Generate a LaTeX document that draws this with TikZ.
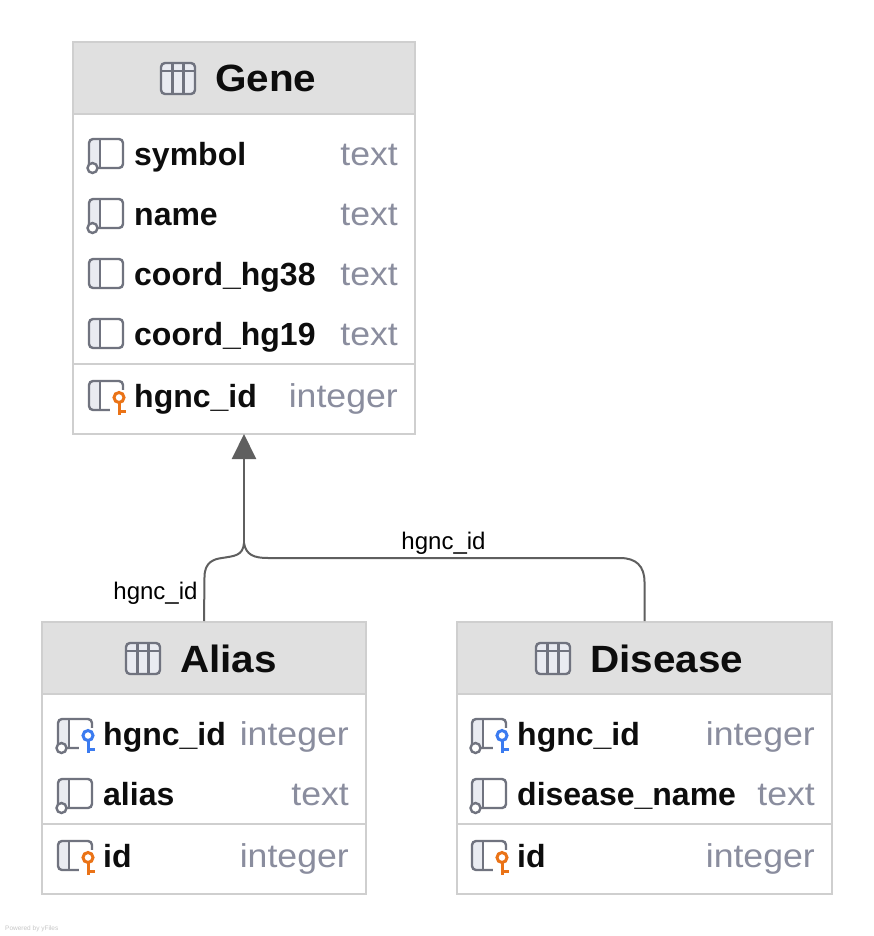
\documentclass[tikz,border=0pt]{standalone}
\usepackage{fontspec}
\setmainfont{Liberation Sans}
\newfontfamily\titlefont[FakeStretch=1.065]{Liberation Sans Bold}
\newfontfamily\fieldfont{Liberation Sans Bold}
\newfontfamily\typefont[FakeStretch=1.08]{Liberation Sans}
\usetikzlibrary{arrows.meta}
\definecolor{boxline}{HTML}{CFCFCF}
\definecolor{headfill}{HTML}{E0E0E0}
\definecolor{iconline}{HTML}{70737F}
\definecolor{panefill}{HTML}{E9EBF1}
\definecolor{typegray}{HTML}{8A8D9E}
\definecolor{edgegray}{HTML}{5F5F5F}
\definecolor{keyorange}{HTML}{EA7317}
\definecolor{keyblue}{HTML}{3B7BF0}
\tikzset{
  x=1pt,y=-1pt,
  tablebox/.style={draw=boxline,line width=1.1pt,fill=white,inner sep=0pt,outer sep=0pt,rectangle},
  headbox/.style={draw=boxline,line width=1.1pt,fill=headfill,inner sep=0pt,outer sep=0pt,rectangle},
  divider/.style={draw=boxline,line width=1.1pt},
  titletext/.style={anchor=base west,inner sep=0pt,font=\fontsize{38}{42}\titlefont,text=black!95},
  fieldtext/.style={anchor=base west,inner sep=0pt,font=\fontsize{32}{36}\fieldfont,text=black!95},
  typetext/.style={anchor=base east,inner sep=0pt,font=\fontsize{33}{36}\typefont,text=typegray},
  edgetext/.style={anchor=base,inner sep=0pt,font=\fontsize{24}{28}\selectfont,text=black},
  edge/.style={draw=edgegray,line width=2pt},
  wmark/.style={anchor=base west,inner sep=0pt,font=\fontsize{6.5}{8}\selectfont,text=black!22},
  icon/.style={draw=iconline,line width=2.4pt},
  plainicon/.pic={
    \fill[panefill] (0,0) rectangle (11,29);
    \draw[icon,rounded corners=4pt] (0,0) rectangle (34,29);
    \draw[icon] (11,0) -- (11,29);
  },
  tableicon/.pic={
    \fill[panefill,rounded corners=4pt] (0,0) rectangle (34,31);
    \draw[icon,rounded corners=4pt] (0,0) rectangle (34,31);
    \draw[icon] (0,8) -- (34,8) (11.5,0) -- (11.5,31) (22.5,0) -- (22.5,31);
  },
  fkcircle/.pic={
    \draw[icon,fill=white] (3.5,29) circle (5);
  },
  keypic/.pic={
    \fill[white] (21,9) rectangle (39,33);
    \draw[pic actions,line width=3pt] (30,16.5) circle (5);
    \draw[pic actions,line width=3pt] (30,22) -- (30,33.5) (30,30) -- (37,30);
  },
}
\newcommand{\fieldrow}[5]{% x0, ytop, name, type, right
  \pic at (#1,#2) {plainicon};
  \pic at (#1,#2) {fkcircle};
  \node[fieldtext] at (#1+45,#2+26.5) {#3};
  \node[typetext] at (#5,#2+26.5) {#4};
}
\newcommand{\plainrow}[5]{%
  \pic at (#1,#2) {plainicon};
  \node[fieldtext] at (#1+45,#2+26.5) {#3};
  \node[typetext] at (#5,#2+26.5) {#4};
}
\newcommand{\pkrow}[5]{%
  \pic at (#1,#2) {plainicon};
  \pic[draw=keyorange] at (#1,#2) {keypic};
  \node[fieldtext] at (#1+45,#2+26.5) {#3};
  \node[typetext] at (#5,#2+26.5) {#4};
}
\newcommand{\fkrow}[5]{%
  \pic at (#1,#2) {plainicon};
  \pic[draw=keyblue] at (#1,#2) {keypic};
  \pic at (#1,#2) {fkcircle};
  \node[fieldtext] at (#1+45,#2+26.5) {#3};
  \node[typetext] at (#5,#2+26.5) {#4};
}
\begin{document}
\begin{tikzpicture}
\useasboundingbox (0,0) rectangle (874,936);
\fill[white] (0,0) rectangle (874,936);
% boxes
\node[tablebox,minimum width=342pt,minimum height=392pt] (gene) at (244,238) {};
\node[headbox,minimum width=342pt,minimum height=72pt] (genehead) at (244,78) {};
\node[tablebox,minimum width=324pt,minimum height=272pt] (alias) at (204,758) {};
\node[headbox,minimum width=324pt,minimum height=72pt] (aliashead) at (204,658) {};
\node[tablebox,minimum width=375pt,minimum height=272pt] (disease) at (644.5,758) {};
\node[headbox,minimum width=375pt,minimum height=72pt] (diseasehead) at (644.5,658) {};
\draw[divider] (gene.west |- 0,364) -- (gene.east |- 0,364);
\draw[divider] (alias.west |- 0,824) -- (alias.east |- 0,824);
\draw[divider] (disease.west |- 0,824) -- (disease.east |- 0,824);
% titles
\pic at (161,63) {tableicon};
\node[titletext] (genetitle) at (215,92) {Gene};
\pic at (126,643) {tableicon};
\node[titletext] (aliastitle) at (180,672) {Alias};
\pic at (536,643) {tableicon};
\node[titletext] (diseasetitle) at (590,672) {Disease};
% gene rows
\fieldrow{89}{139}{symbol}{text}{398}
\fieldrow{89}{199}{name}{text}{398}
\plainrow{89}{259}{coord\_hg38}{text}{398}
\plainrow{89}{319}{coord\_hg19}{text}{398}
\pkrow{89}{381}{hgnc\_id}{integer}{398}
% alias rows
\fkrow{58}{719}{hgnc\_id}{integer}{349}
\fieldrow{58}{779}{alias}{text}{349}
\pkrow{58}{841}{id}{integer}{349}
% disease rows
\fkrow{472}{719}{hgnc\_id}{integer}{815}
\fieldrow{472}{779}{disease\_name}{text}{815}
\pkrow{472}{841}{id}{integer}{815}
% connectors
\coordinate (fork) at (244,543);
\draw[edge,-{Triangle[length=25pt,width=24pt]}] (fork) -- (gene.south);
\draw[edge] (alias.north |- 0,621) -- (204.5,577) .. controls (204.5,562) and (214,559) .. (222,558) .. controls (234,556) and (243,556) .. (fork);
\draw[edge] (disease.north |- 0,621) -- (644.5,582) .. controls (644.5,566) and (636,558) .. (620,558) -- (268,558) .. controls (254,558) and (246,555) .. (fork);
\node[edgetext] (lblright) at (443.5,549) {hgnc\_id};
\node[edgetext] (lblleft) at (155.5,599) {hgnc\_id};
\node[wmark] (powered) at (5,930) {Powered by yFiles};
\end{tikzpicture}
\end{document}
